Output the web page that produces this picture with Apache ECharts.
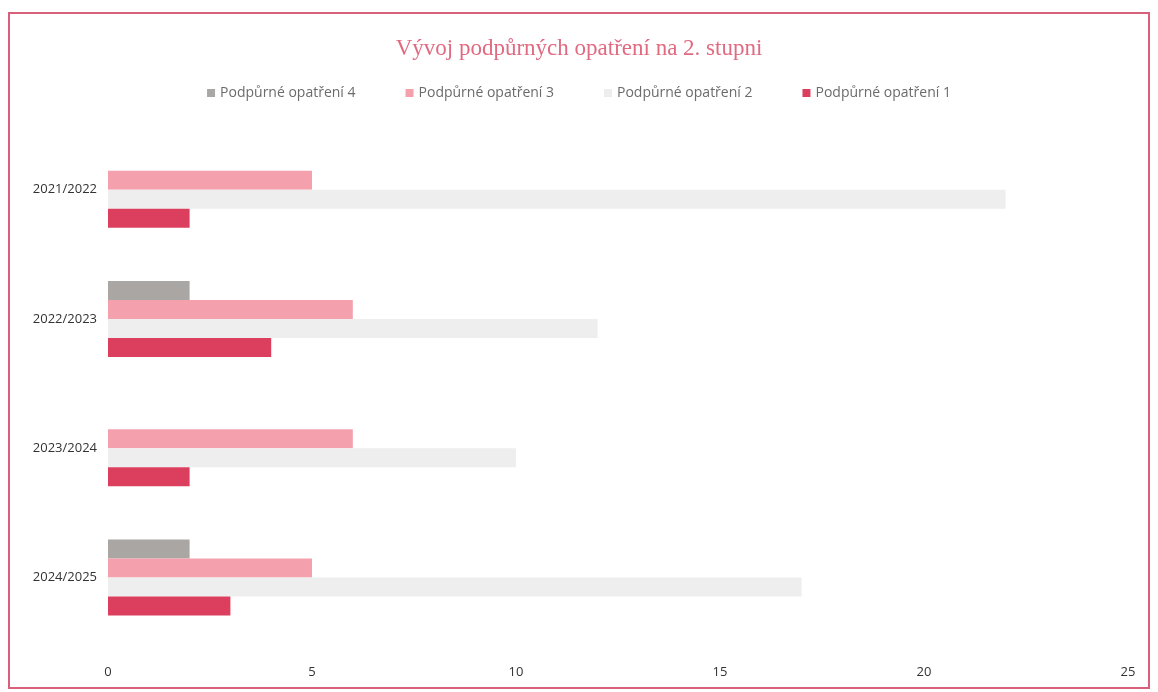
<!DOCTYPE html>
<html>
<head>
<meta charset="utf-8">
<script src="https://cdn.jsdelivr.net/npm/echarts@6/dist/echarts.min.js"></script>
<style>html,body{margin:0;padding:0;background:#fff;}#c{width:1158px;height:692px;}</style>
</head>
<body>
<div id="c"></div>
<script>
const categories = ['2021/2022', '2022/2023', '2023/2024', '2024/2025'];
const seriesNames = ['Podpůrné opatření 4', 'Podpůrné opatření 3', 'Podpůrné opatření 2', 'Podpůrné opatření 1'];
const s4 = [0, 2, 0, 2];
const s3 = [5, 6, 6, 5];
const s2 = [22, 12, 10, 17];
const s1 = [2, 4, 2, 3];
const xTicks = [0, 5, 10, 15, 20, 25];

const colors = ['#a9a6a4', '#f5a0ad', '#eeeeee', '#dc3f5e'];
const values = [s4, s3, s2, s1];

const chart = echarts.init(document.getElementById('c'));
chart.setOption({
  backgroundColor: '#fff',
  animation: false,
  title: {
    text: 'Vývoj podpůrných opatření na 2. stupni',
    left: 'center',
    top: 32,
    textStyle: { fontFamily: 'Liberation Serif, DejaVu Serif, serif', fontSize: 23, fontWeight: 'normal', color: '#e06a80' }
  },
  legend: {
    top: 81,
    left: 'center',
    itemWidth: 8,
    itemHeight: 8,
    itemGap: 50,
    icon: 'rect',
    textStyle: { fontFamily: 'Open Sans, sans-serif', fontSize: 14, color: '#6b6b6b' },
    data: seriesNames
  },
  graphic: [{
    type: 'rect',
    shape: { x: 9, y: 13, width: 1140, height: 675 },
    style: { fill: 'none', stroke: '#d9607a', lineWidth: 2 },
    silent: true
  }],
  grid: { left: 108, right: 30, top: 125, bottom: 50 },
  xAxis: {
    type: 'value',
    min: 0, max: 25, interval: 5,
    axisLine: { show: false },
    axisTick: { show: false },
    splitLine: { show: false },
    axisLabel: {
      margin: 24,
      fontFamily: 'Open Sans, sans-serif', fontSize: 13, color: '#333',
      formatter: v => xTicks.includes(v) ? String(v) : ''
    }
  },
  yAxis: {
    type: 'category',
    inverse: true,
    data: categories,
    axisLine: { show: false },
    axisTick: { show: false },
    axisLabel: { margin: 11, fontFamily: 'Open Sans, sans-serif', fontSize: 13, color: '#333' }
  },
  series: seriesNames.map((n, i) => ({
    name: n,
    type: 'bar',
    data: values[i],
    barWidth: 19,
    barGap: '0%',
    itemStyle: { color: colors[i] }
  }))
});
</script>
</body>
</html>
